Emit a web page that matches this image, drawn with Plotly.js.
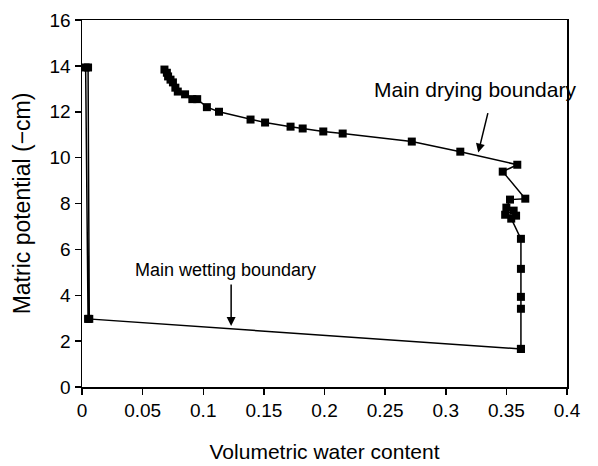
<!DOCTYPE html>
<html>
<head>
<meta charset="utf-8">
<script src="https://cdn.plot.ly/plotly-3.0.1.min.js"></script>
<style>html,body{margin:0;padding:0;background:#fff;}#chart{width:598px;height:466px;}</style>
</head>
<body>
<div id="chart"></div>
<script>
// Main drying boundary (volumetric water content, matric potential -cm)
const dryingTheta = [0.068, 0.070, 0.071, 0.073, 0.075, 0.077, 0.079, 0.085, 0.091, 0.095, 0.103, 0.113,
  0.139, 0.151, 0.172, 0.182, 0.199, 0.215, 0.272, 0.312, 0.359, 0.347, 0.3656,
  0.353, 0.350, 0.356, 0.349, 0.358, 0.354, 0.362, 0.362, 0.362, 0.362, 0.362];
const dryingPsi = [13.84, 13.7, 13.54, 13.4, 13.28, 13.05, 12.88, 12.76, 12.55, 12.55, 12.2, 12.0,
  11.66, 11.53, 11.35, 11.27, 11.14, 11.05, 10.70, 10.26, 9.69, 9.39, 8.21,
  8.17, 7.82, 7.69, 7.51, 7.47, 7.34, 6.46, 5.15, 3.93, 3.41, 1.66];
// Main wetting boundary
const wettingTheta = [0.362, 0.005, 0.003, 0.005, 0.006];
const wettingPsi = [1.66, 2.97, 13.93, 13.93, 2.97];

const xTicks = [0, 0.05, 0.1, 0.15, 0.2, 0.25, 0.3, 0.35, 0.4];
const yTicks = [0, 2, 4, 6, 8, 10, 12, 14, 16];

const labels = ['Main drying boundary', 'Main wetting boundary'];
const labelX = [0.3243, 0.118];
const labelY = [12.97, 5.11];
const labelSize = [21, 18];
const arrowX = [0.3268, 0.123];
const arrowY = [10.22, 2.66];

const font = {family: 'Liberation Sans, Arial, sans-serif', color: '#000'};
const mk = {symbol: 'square', size: 8, color: '#000'};
const ln = {color: '#000', width: 1.5};

const data = [
  {x: dryingTheta, y: dryingPsi, mode: 'lines+markers', marker: mk, line: ln, type: 'scatter', showlegend: false},
  {x: wettingTheta, y: wettingPsi, mode: 'lines+markers', marker: mk, line: ln, type: 'scatter', showlegend: false}
];

const annotations = [];
for (let i = 0; i < labels.length; i++) {
  annotations.push({x: labelX[i], y: labelY[i], xref: 'x', yref: 'y', text: labels[i], showarrow: false,
    xanchor: 'center', yanchor: 'middle', font: Object.assign({size: labelSize[i]}, font)});
}
annotations.push({x: arrowX[0], y: arrowY[0], xref: 'x', yref: 'y', text: '', showarrow: true,
  arrowhead: 2, arrowsize: 1.2, arrowwidth: 1.5, arrowcolor: '#000', ax: 10, ay: -41, standoff: 0});
annotations.push({x: arrowX[1], y: arrowY[1], xref: 'x', yref: 'y', text: '', showarrow: true,
  arrowhead: 2, arrowsize: 1.2, arrowwidth: 1.5, arrowcolor: '#000', ax: 0, ay: -43, standoff: 0});

const layout = {
  width: 598, height: 466,
  margin: {l: 82, r: 31, t: 20, b: 79},
  paper_bgcolor: '#fff', plot_bgcolor: '#fff',
  font: Object.assign({size: 19}, font),
  xaxis: {
    range: [0, 0.4], tickvals: xTicks, ticktext: xTicks.map(String),
    showgrid: false, zeroline: false, showline: true, linecolor: '#000', linewidth: 1.5, mirror: true,
    ticks: 'outside', ticklen: 6, tickcolor: '#000', tickwidth: 1.5,
    tickfont: Object.assign({size: 19}, font),
    title: {text: 'Volumetric water content', font: Object.assign({size: 21}, font), standoff: 24}
  },
  yaxis: {
    range: [0, 16], tickvals: yTicks, ticktext: yTicks.map(String),
    showgrid: false, zeroline: false, showline: true, linecolor: '#000', linewidth: 1.5, mirror: true,
    ticks: 'outside', ticklen: 6, tickcolor: '#000', tickwidth: 1.5,
    tickfont: Object.assign({size: 19}, font),
    title: {text: 'Matric potential (\u2212cm)', font: Object.assign({size: 23}, font), standoff: 12}
  },
  annotations: annotations
};

Plotly.newPlot('chart', data, layout, {displayModeBar: false, staticPlot: true});
</script>
</body>
</html>
